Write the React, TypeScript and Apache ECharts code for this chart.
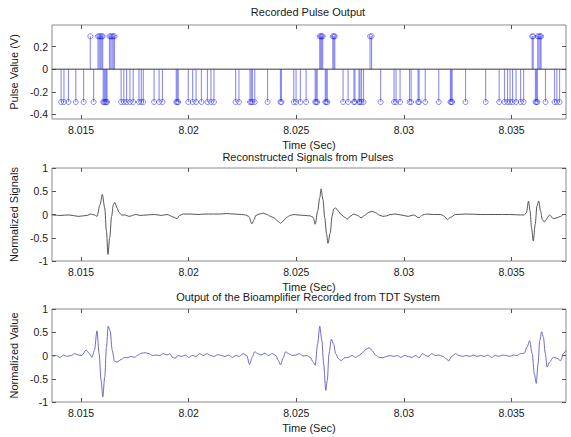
import React, { useEffect, useRef } from "react";
import * as echarts from "echarts";

const X_MIN = 8.01365;
const X_MAX = 8.03753;
const X_TICKS = [8.015, 8.02, 8.025, 8.03, 8.035];
const PULSE_Y_TICKS = [-0.4, -0.2, 0, 0.2];
const SIGNAL_Y_TICKS = [-1, -0.5, 0, 0.5, 1];
const PULSE_AMP = 0.29;

const positivePulseTimes = [
  8.01543, 8.015786, 8.015842, 8.015898, 8.015959, 8.016006, 8.016319, 8.01638, 8.016441,
  8.016497, 8.016553, 8.026088, 8.026135, 8.026181, 8.026228, 8.026696, 8.026743, 8.02679,
  8.028427, 8.028497, 8.035959, 8.036006, 8.036216, 8.036272, 8.036329, 8.036371,
];

const negativePulseTimes = [
  8.014074, 8.014205, 8.014415, 8.014757, 8.015117, 8.015585, 8.016029, 8.016076, 8.016123,
  8.01617, 8.016207, 8.016862, 8.016988, 8.017115, 8.017269, 8.017423, 8.01769, 8.017798,
  8.017891, 8.018392, 8.018626, 8.01878, 8.019421, 8.019468, 8.019515, 8.019982, 8.020184,
  8.020343, 8.020591, 8.020871, 8.021035, 8.021175, 8.022181, 8.022336, 8.02285, 8.022907,
  8.022963, 8.02307, 8.023664, 8.024263, 8.02431, 8.024881, 8.024988, 8.02519, 8.025456,
  8.025877, 8.025924, 8.025971, 8.026345, 8.026392, 8.026439, 8.027173, 8.027407, 8.027678,
  8.027725, 8.027912, 8.027959, 8.028029, 8.028123, 8.028918, 8.029541, 8.029634, 8.029821,
  8.030261, 8.030336, 8.030659, 8.030705, 8.030991, 8.031618, 8.03216, 8.032202, 8.03224,
  8.032862, 8.033798, 8.034425, 8.034673, 8.034813, 8.03493, 8.035047, 8.03521, 8.035421,
  8.035561, 8.036109, 8.036156, 8.036203, 8.036577, 8.036998, 8.037105, 8.037232,
];

const reconstructed: [number, number][] = [
  [8.01365, -0.01], [8.01402, -0.02], [8.01444, -0.01], [8.01487, -0.04], [8.01529, -0.02],
  [8.01545, 0.01], [8.01562, -0.01], [8.01574, -0.04], [8.01588, 0.21], [8.01599, 0.43],
  [8.0161, 0.14], [8.01618, -0.36], [8.01625, -0.86], [8.01633, -0.5], [8.01642, -0.04],
  [8.0165, 0.21], [8.01657, 0.26], [8.01667, 0.14], [8.01677, 0.04], [8.01689, -0.01],
  [8.01706, -0.01], [8.01722, -0.04], [8.01756, 0.0], [8.01773, -0.02], [8.01807, -0.01],
  [8.0184, 0.0], [8.01874, -0.02], [8.01899, 0.0], [8.01933, -0.06], [8.01945, -0.09],
  [8.01958, -0.02], [8.01975, 0.01], [8.02009, 0.01], [8.02043, 0.0], [8.02076, 0.01],
  [8.0211, 0.01], [8.02144, 0.01], [8.02177, 0.02], [8.02211, 0.01], [8.02245, 0.0],
  [8.02265, -0.01], [8.02278, -0.04], [8.02294, -0.2], [8.02304, -0.11], [8.02312, -0.02],
  [8.02329, 0.01], [8.02346, 0.03], [8.02363, 0.0], [8.0238, -0.04], [8.02396, -0.07],
  [8.02413, -0.14], [8.02427, -0.19], [8.02439, -0.14], [8.02455, -0.06], [8.02472, -0.02],
  [8.02489, 0.0], [8.02506, -0.01], [8.0254, -0.02], [8.02565, -0.03], [8.02578, -0.06],
  [8.02588, -0.21], [8.02599, 0.07], [8.02609, 0.36], [8.02615, 0.55], [8.02624, 0.32],
  [8.02632, -0.07], [8.02641, -0.43], [8.02647, -0.62], [8.02658, -0.39], [8.02666, -0.04],
  [8.02674, 0.12], [8.02683, 0.14], [8.02696, 0.07], [8.02708, 0.0], [8.02725, -0.06],
  [8.02737, -0.1], [8.0275, -0.04], [8.02767, 0.01], [8.02784, -0.02], [8.02801, -0.07],
  [8.02818, -0.02], [8.02834, 0.04], [8.02851, 0.07], [8.02868, 0.04], [8.02885, -0.01],
  [8.02902, -0.04], [8.02919, -0.03], [8.02936, 0.0], [8.02961, 0.01], [8.02986, -0.01],
  [8.0302, -0.04], [8.03045, -0.01], [8.0307, -0.07], [8.03087, -0.01], [8.03104, 0.01],
  [8.03138, 0.0], [8.03171, 0.0], [8.03185, -0.03], [8.03202, -0.11], [8.03217, -0.06],
  [8.03239, 0.0], [8.03289, 0.01], [8.03357, 0.0], [8.03424, 0.0], [8.03492, 0.0],
  [8.03542, -0.01], [8.03559, -0.01], [8.03569, 0.04], [8.03579, 0.29], [8.03586, 0.07],
  [8.03593, -0.29], [8.03601, -0.57], [8.0361, -0.21], [8.03618, 0.18], [8.03626, 0.29],
  [8.03635, 0.07], [8.03643, -0.11], [8.03652, -0.16], [8.0366, -0.11], [8.03677, -0.01],
  [8.03694, -0.09], [8.03711, -0.07], [8.03728, -0.04], [8.03741, 0.0], [8.03753, 0.0],
];

const bioamplifier: [number, number][] = [
  [8.01369, -0.02], [8.01385, 0.0], [8.01402, -0.04], [8.01419, 0.01], [8.01436, -0.02],
  [8.01453, 0.0], [8.0147, 0.04], [8.01487, 0.01], [8.01503, 0.0], [8.01524, 0.12],
  [8.01537, 0.05], [8.01551, -0.04], [8.01562, 0.11], [8.01574, 0.53], [8.01584, 0.04],
  [8.01593, -0.53], [8.01601, -0.89], [8.0161, -0.46], [8.01618, 0.18], [8.01626, 0.63],
  [8.01635, 0.53], [8.01645, 0.11], [8.01655, -0.12], [8.01668, -0.14], [8.01685, -0.09],
  [8.01702, -0.04], [8.01714, -0.05], [8.01731, -0.02], [8.01748, -0.04], [8.01765, 0.01],
  [8.01781, 0.05], [8.01798, 0.06], [8.01815, 0.04], [8.01832, 0.0], [8.01849, 0.01],
  [8.01866, 0.0], [8.01882, 0.04], [8.01899, 0.01], [8.01913, 0.04], [8.01925, -0.04],
  [8.01938, -0.06], [8.0195, 0.0], [8.01967, -0.02], [8.01984, 0.01], [8.02, -0.04],
  [8.02017, 0.0], [8.02034, -0.02], [8.02051, 0.04], [8.02068, 0.0], [8.02085, 0.04],
  [8.02102, 0.0], [8.02118, -0.02], [8.02135, 0.02], [8.02152, 0.0], [8.02169, -0.02],
  [8.02186, 0.01], [8.02203, -0.04], [8.02219, 0.0], [8.02236, -0.02], [8.02253, 0.04],
  [8.0227, 0.0], [8.02283, -0.2], [8.02295, -0.04], [8.02307, 0.08], [8.02321, 0.04],
  [8.02337, 0.01], [8.02354, 0.05], [8.02371, 0.0], [8.02388, 0.04], [8.02405, 0.0],
  [8.02417, -0.11], [8.02427, -0.2], [8.02439, -0.05], [8.0245, 0.08], [8.02464, 0.04],
  [8.02481, 0.0], [8.02497, 0.01], [8.02514, 0.04], [8.02531, -0.01], [8.02548, 0.0],
  [8.02565, -0.04], [8.02578, -0.14], [8.02588, -0.21], [8.02599, 0.25], [8.02609, 0.63],
  [8.02619, 0.32], [8.02627, -0.18], [8.02637, -0.75], [8.02644, -0.53], [8.02652, 0.04],
  [8.02663, 0.35], [8.02673, 0.25], [8.02683, 0.04], [8.02696, -0.07], [8.02708, -0.11],
  [8.02725, -0.05], [8.02742, -0.04], [8.02759, 0.0], [8.02775, -0.04], [8.02792, 0.0],
  [8.02809, 0.07], [8.02826, 0.14], [8.02838, 0.17], [8.02851, 0.11], [8.02868, 0.01],
  [8.02885, -0.04], [8.02902, -0.05], [8.02919, -0.02], [8.02936, 0.0], [8.02952, -0.02],
  [8.02969, 0.0], [8.02986, -0.04], [8.03003, 0.0], [8.0302, -0.02], [8.03037, -0.04],
  [8.03054, 0.0], [8.0307, -0.05], [8.03087, 0.04], [8.03101, 0.0], [8.03112, -0.02],
  [8.03129, 0.04], [8.03146, 0.0], [8.03163, 0.01], [8.0318, -0.02], [8.03197, -0.07],
  [8.03208, -0.12], [8.03222, -0.02], [8.03239, 0.04], [8.03256, 0.0], [8.03273, -0.02],
  [8.03289, 0.0], [8.03306, -0.02], [8.03323, 0.01], [8.0334, -0.02], [8.03357, 0.0],
  [8.03374, -0.02], [8.0339, 0.01], [8.03407, -0.04], [8.03424, 0.0], [8.03441, -0.02],
  [8.03458, 0.01], [8.03475, 0.0], [8.03492, -0.02], [8.03508, 0.01], [8.03525, 0.0],
  [8.03542, 0.04], [8.03559, 0.05], [8.03572, 0.18], [8.03584, 0.32], [8.03596, 0.04],
  [8.03606, -0.39], [8.03615, -0.6], [8.03623, -0.18], [8.03631, 0.32], [8.0364, 0.51],
  [8.03648, 0.39], [8.03657, 0.04], [8.03665, -0.25], [8.03677, -0.14], [8.03694, -0.04],
  [8.03711, -0.06], [8.03728, -0.11], [8.03741, 0.04], [8.03753, 0.11],
];

const FONT = '"Liberation Sans", Arial, Helvetica, sans-serif';
const TEXT = "#1a1a1a";
const TICK = "#555";

const GRIDS = [
  { top: 25, height: 94 },
  { top: 168, height: 93 },
  { top: 309, height: 93 },
];
const TITLES = [
  { text: "Recorded Pulse Output", y: 12 },
  { text: "Reconstructed Signals from Pulses", y: 157 },
  { text: "Output of the Bioamplifier Recorded from TDT System", y: 297 },
];
const Y_NAMES = ["Pulse Value (V)", "Normalized Signals", "Normalized Value"];

const fmt = (v: number, d: number) => String(Number(v.toFixed(d)));

export default function App() {
  const ref = useRef<HTMLDivElement>(null);

  useEffect(() => {
    if (!ref.current) return;
    const chart = echarts.init(ref.current, null, { renderer: "svg" });

    const xAxes: any[] = [];
    const yAxes: any[] = [];
    GRIDS.forEach((_, i) => {
      xAxes.push({
        gridIndex: i,
        type: "value",
        min: X_MIN,
        max: X_MAX,
        position: "bottom",
        axisLine: { show: false, onZero: false },
        splitLine: { show: false },
        axisTick: { inside: true, length: 4, customValues: X_TICKS, lineStyle: { color: TICK } },
        axisLabel: {
          customValues: X_TICKS,
          margin: 5,
          fontSize: 10.5,
          color: TEXT,
          fontFamily: FONT,
          formatter: (v: number) => fmt(v, 4),
        },
        name: "Time (Sec)",
        nameLocation: "middle",
        nameGap: 20,
        nameTextStyle: { fontSize: 11, color: TEXT, fontFamily: FONT },
      });
      xAxes.push({
        gridIndex: i,
        type: "value",
        min: X_MIN,
        max: X_MAX,
        position: "top",
        axisLine: { show: false, onZero: false },
        splitLine: { show: false },
        axisTick: { inside: true, length: 4, customValues: X_TICKS, lineStyle: { color: TICK } },
        axisLabel: { show: false },
      });
      const isPulse = i === 0;
      const yMin = isPulse ? -0.44 : -1;
      const yMax = isPulse ? 0.39 : 1;
      const yTicks = isPulse ? PULSE_Y_TICKS : SIGNAL_Y_TICKS;
      yAxes.push({
        gridIndex: i,
        type: "value",
        min: yMin,
        max: yMax,
        position: "left",
        axisLine: { show: false, onZero: false },
        splitLine: { show: false },
        axisTick: { inside: true, length: 4, customValues: yTicks, lineStyle: { color: TICK } },
        axisLabel: {
          customValues: yTicks,
          margin: 4,
          fontSize: 10.5,
          color: TEXT,
          fontFamily: FONT,
          formatter: (v: number) => fmt(v, 2),
        },
        name: Y_NAMES[i],
        nameLocation: "middle",
        nameGap: 30,
        nameTextStyle: { fontSize: 11, color: TEXT, fontFamily: FONT },
      });
      yAxes.push({
        gridIndex: i,
        type: "value",
        min: yMin,
        max: yMax,
        position: "right",
        axisLine: { show: false, onZero: false },
        splitLine: { show: false },
        axisTick: { inside: true, length: 4, customValues: yTicks, lineStyle: { color: TICK } },
        axisLabel: { show: false },
      });
    });

    const stemData = [
      ...positivePulseTimes.map((t) => [t, PULSE_AMP]),
      ...negativePulseTimes.map((t) => [t, -PULSE_AMP]),
    ];

    const option: any = {
      animation: false,
      backgroundColor: "#ffffff",
      grid: GRIDS.map((g) => ({
        left: 50,
        right: 5,
        top: g.top,
        height: g.height,
        show: true,
        borderColor: "#8a8a8a",
        borderWidth: 1,
        backgroundColor: "transparent",
      })),
      xAxis: xAxes,
      yAxis: yAxes,
      graphic: TITLES.map((t) => ({
        type: "text",
        x: 308,
        y: t.y,
        style: {
          text: t.text,
          fontSize: 11,
          fontFamily: FONT,
          fill: TEXT,
          textAlign: "center",
          textVerticalAlign: "middle",
        },
      })),
      series: [
        {
          type: "line",
          xAxisIndex: 0,
          yAxisIndex: 0,
          data: [
            [X_MIN, 0],
            [X_MAX, 0],
          ],
          symbol: "none",
          lineStyle: { color: "#3a3a3a", width: 1 },
          silent: true,
        },
        {
          type: "custom",
          xAxisIndex: 0,
          yAxisIndex: 0,
          data: stemData,
          encode: { x: 0, y: 1 },
          renderItem: (params: any, api: any) => {
            const t = api.value(0);
            const v = api.value(1);
            const p0 = api.coord([t, 0]);
            const p1 = api.coord([t, v]);
            return {
              type: "group",
              children: [
                {
                  type: "line",
                  shape: { x1: p0[0], y1: p0[1], x2: p1[0], y2: p1[1] },
                  style: { stroke: "rgba(25,25,235,0.5)", lineWidth: 1.1 },
                },
                {
                  type: "circle",
                  shape: { cx: p1[0], cy: p1[1], r: 2.5 },
                  style: { fill: "none", stroke: "rgba(25,25,235,0.5)", lineWidth: 1 },
                },
              ],
            };
          },
        },
        {
          type: "line",
          xAxisIndex: 2,
          yAxisIndex: 2,
          data: reconstructed,
          symbol: "none",
          smooth: 0.3,
          smoothMonotone: "x",
          lineStyle: { color: "#555555", width: 1 },
        },
        {
          type: "line",
          xAxisIndex: 4,
          yAxisIndex: 4,
          data: bioamplifier,
          symbol: "none",
          smooth: 0.3,
          smoothMonotone: "x",
          lineStyle: { color: "#6b6bc8", width: 1 },
        },
      ],
    };

    chart.setOption(option);
    return () => chart.dispose();
  }, []);

  return (
    <div
      ref={ref}
      style={{ position: "absolute", left: 0, top: 0, width: 571, height: 437, background: "#fff" }}
    />
  );
}
